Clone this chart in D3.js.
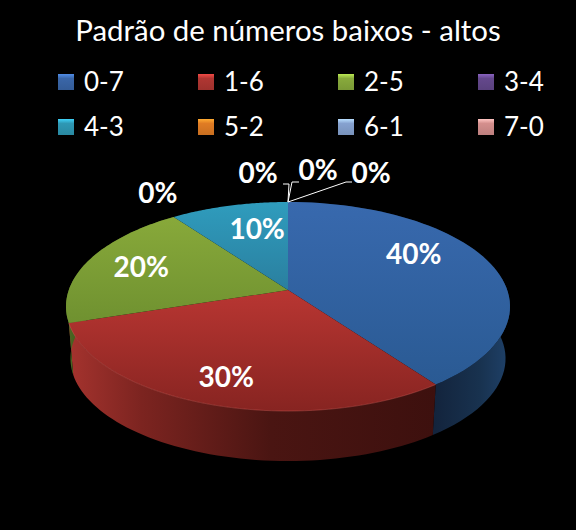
<!DOCTYPE html>
<html>
<head>
<meta charset="utf-8">
<script src="https://cdn.jsdelivr.net/npm/d3@7"></script>
<style>
  html, body { margin: 0; padding: 0; background: #000; }
  text { font-family: Lato, "Open Sans", sans-serif; fill: #fff; }
</style>
</head>
<body>
<svg id="chart" width="576" height="530"></svg>
<script>
const title = "Padrão de números baixos - altos";
const categories = ["0-7", "1-6", "2-5", "3-4", "4-3", "5-2", "6-1", "7-0"];
const shares = [40, 30, 20, 0, 10, 0, 0, 0];

// top gradient start, top gradient end
const topColors = [
  ["#3869ae", "#2a5a93"], ["#b93632", "#872421"], ["#88a93a", "#6f9130"], ["#654a8c", "#4f3a70"],
  ["#2f9cbd", "#2a7f9f"], ["#e8832a", "#c46a1c"], ["#8fa9d6", "#7088b4"], ["#dc9a98", "#b87a78"]
];
const swatchColors = ["#3a66a8", "#b03632", "#88aa3c", "#64488c", "#2e98b4", "#e07c24", "#86a2d0", "#d48f8d"];

// label offset from the slice's rim point
const labelShift = [[-73, -6], [18, -27], [52, 7], [-16, -24], [28, 23], [-30, -29], [30, -32], [83, -29]];
// leader elbows relative to the rim point, only the small slices have one
const leaderBends = {
  5: [[1, -18], [-5, -18]],
  6: [[4, -20], [11, -20]],
  7: [[58, -20], [64, -20]]
};

const svg = d3.select("#chart");
const defs = svg.append("defs");

// pie is seen in perspective, so the apex sits above the middle of the ellipse
const cx = 288, apexY = 290, radiusX = 219.2, radiusY = 101.9, persp = 0.158;
const floorY = 342.4, floorScale = 0.98;

const project = (a, y0 = apexY, k = 1) => {
  const u = Math.sin(a), v = -Math.cos(a);
  const s = 1 / (1 - persp * v);
  return [cx + k * radiusX * u * s, y0 + k * radiusY * v * s];
};

const pie = d3.pie().sort(null).value(d => d);
const arcs = pie(shares);

const sampleAngles = (a0, a1) => d3.range(0, 61).map(i => a0 + (a1 - a0) * i / 60);
const line = d3.line();

// top faces
topColors.forEach((c, i) => {
  const g = defs.append("linearGradient").attr("id", "top" + i)
    .attr("x1", 0).attr("x2", 0).attr("y1", 0).attr("y2", 1);
  g.append("stop").attr("offset", 0).attr("stop-color", c[0]);
  g.append("stop").attr("offset", 1).attr("stop-color", c[1]);
});

const wallStops = {
  0: [[0, "#13243d"], [0.6, "#18324f"], [1, "#1f4169"]],
  1: [[0, "#a5332e"], [0.2, "#7c2420"], [0.55, "#4a1512"], [1, "#3d100e"]],
  2: [[0, "#4f6a26"], [1, "#46601f"]]
};
const wallRange = { 0: [435, 510], 1: [68, 436], 2: [66, 74] };
Object.keys(wallStops).forEach(i => {
  const g = defs.append("linearGradient").attr("id", "wall" + i)
    .attr("gradientUnits", "userSpaceOnUse")
    .attr("x1", wallRange[i][0]).attr("x2", wallRange[i][1]).attr("y1", 0).attr("y2", 0);
  wallStops[i].forEach(s => g.append("stop").attr("offset", s[0]).attr("stop-color", s[1]));
});

// side walls first, the top faces cover whatever is hidden
svg.append("g").selectAll("path")
  .data(arcs.filter(d => d.value > 0 && wallStops[d.index]))
  .enter().append("path")
  .attr("d", d => {
    const angles = sampleAngles(d.startAngle, d.endAngle);
    const upper = angles.map(a => project(a));
    const lower = angles.map(a => project(a, floorY, floorScale)).reverse();
    return line(upper.concat(lower)) + "Z";
  })
  .attr("fill", d => `url(#wall${d.index})`);

svg.append("g").selectAll("path")
  .data(arcs.filter(d => d.value > 0))
  .enter().append("path")
  .attr("d", d => {
    const rim = sampleAngles(d.startAngle, d.endAngle).map(a => project(a));
    return line([[cx, apexY]].concat(rim)) + "Z";
  })
  .attr("fill", d => `url(#top${d.index})`);

// thin highlight along the front edge of the red slice
svg.append("path")
  .attr("d", line(sampleAngles(arcs[1].startAngle, arcs[1].endAngle).map(a => project(a))))
  .attr("fill", "none")
  .attr("stroke", "#d8605a")
  .attr("stroke-opacity", 0.4)
  .attr("stroke-width", 1);

// leaders
const midAngle = d => (d.startAngle + d.endAngle) / 2;
svg.append("g").selectAll("path")
  .data(arcs.filter(d => leaderBends[d.index]))
  .enter().append("path")
  .attr("d", d => {
    const p = project(midAngle(d));
    return line([p].concat(leaderBends[d.index].map(b => [p[0] + b[0], p[1] + b[1]])));
  })
  .attr("fill", "none")
  .attr("stroke", "#fff")
  .attr("stroke-width", 1);

// value labels
svg.append("g").selectAll("text")
  .data(arcs)
  .enter().append("text")
  .attr("x", d => project(midAngle(d))[0] + labelShift[d.index][0])
  .attr("y", d => project(midAngle(d))[1] + labelShift[d.index][1])
  .attr("dy", "0.35em")
  .attr("text-anchor", "middle")
  .style("font-size", "28px")
  .style("font-weight", "700")
  .text(d => d.value + "%");

// title
svg.append("text")
  .attr("x", 288)
  .attr("y", 41)
  .attr("text-anchor", "middle")
  .style("font-size", "29.4px")
  .text(title);

// legend, four to a row
const legendX = d3.scalePoint().domain(d3.range(4)).range([58, 478]);
const legendY = d3.scalePoint().domain(d3.range(2)).range([74, 119]);

swatchColors.forEach((c, i) => {
  const g = defs.append("linearGradient").attr("id", "swatch" + i)
    .attr("x1", 0).attr("x2", 0).attr("y1", 0).attr("y2", 1);
  g.append("stop").attr("offset", 0).attr("stop-color", d3.color(c).brighter(0.9));
  g.append("stop").attr("offset", 0.28).attr("stop-color", c);
  g.append("stop").attr("offset", 1).attr("stop-color", d3.color(c).darker(0.3));
});

const legend = svg.append("g").selectAll("g")
  .data(categories)
  .enter().append("g")
  .attr("transform", (d, i) => `translate(${legendX(i % 4)},${legendY(Math.floor(i / 4))})`);

legend.append("rect")
  .attr("width", 16)
  .attr("height", 16)
  .attr("fill", (d, i) => `url(#swatch${i})`);

legend.append("text")
  .attr("x", 26)
  .attr("y", 8)
  .attr("dy", "0.35em")
  .style("font-size", "26px")
  .text(d => d);
</script>
</body>
</html>
